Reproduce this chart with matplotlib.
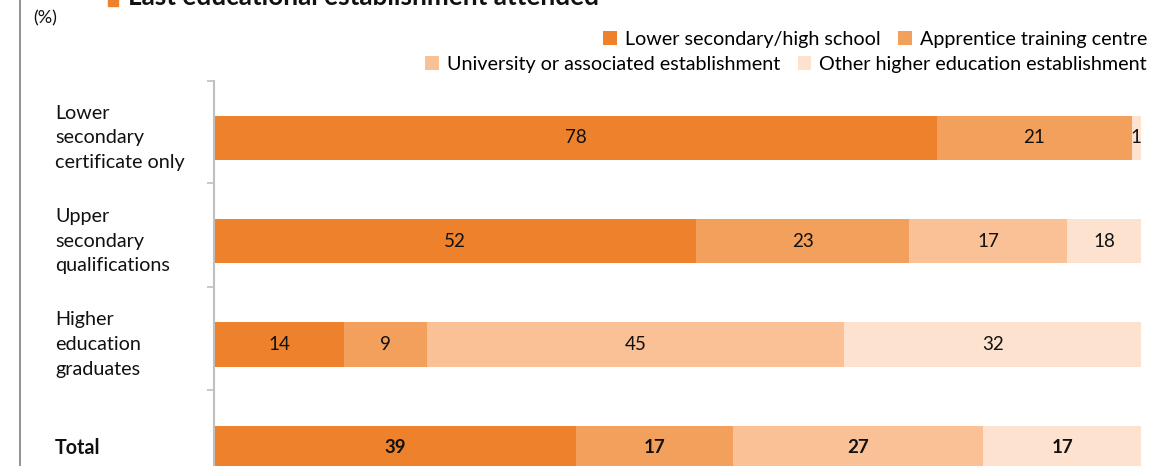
import numpy as np
import matplotlib.pyplot as plt
import matplotlib.patches as patches
import matplotlib.transforms as mtrans

plt.rcParams['font.family'] = ['Lato', 'DejaVu Sans']

# share of each establishment type, per qualification level (%)
groups = ["Lower\nsecondary\ncertificate only", "Upper\nsecondary\nqualifications",
          "Higher\neducation\ngraduates", "Total"]
lower_secondary = [78, 52, 14, 39]
apprentice = [21, 23, 9, 17]
university = [0, 17, 45, 27]
other_higher = [1, 18, 32, 17]

series = [lower_secondary, apprentice, university, other_higher]
names = ["Lower secondary/high school", "Apprentice training centre",
         "University or associated establishment", "Other higher education establishment"]
colors = ["#EE822C", "#F2A05B", "#F9C195", "#FDE2CF"]

W, H = 1150, 466
fig = plt.figure(figsize=(W/100, H/100), dpi=100)
ax = fig.add_axes([214/W, 0, 927/W, (H-81)/H])

y = np.arange(len(groups))
left = np.zeros(len(groups))
bars = []
for vals, c, name in zip(series, colors, names):
    vals = np.array(vals, dtype=float)
    b = ax.barh(y, vals, left=left, height=0.43, color=c, label=name, lw=0)
    bars.append(b)
    for i, (l, v) in enumerate(zip(left, vals)):
        if v <= 0:
            continue
        # centre the label on the visible part of the segment
        xc = l + min(v, 100 - l) / 2
        ax.text(xc, i, f"{v:.0f}", ha='center', va='center', fontsize=13.5,
                fontweight='bold' if groups[i] == "Total" else 'normal', color='#111111')
    left += vals

ax.set_xlim(0, 100)
ax.set_ylim(3.177, -0.55)
for s in ['top', 'right', 'bottom']:
    ax.spines[s].set_visible(False)
ax.spines['left'].set_color('#BFBFBF')
ax.spines['left'].set_linewidth(1.5)
ax.set_xticks([])
ax.set_yticks([])
ax.set_yticks([-0.55, 0.44, 1.44, 2.44], minor=True)
ax.tick_params(axis='y', which='minor', length=5, width=1.2, color='#BFBFBF')

# category labels, left aligned in figure coordinates
trans = mtrans.blended_transform_factory(fig.transFigure, ax.transData)
for i, g in enumerate(groups):
    ax.text(55/W, i, g, transform=trans, ha='left', va='center', fontsize=14.2,
            linespacing=1.55, fontweight='bold' if g == "Total" else 'normal', color='#111111')

# legend, two right-aligned rows
leg_kw = dict(frameon=False, ncol=2, fontsize=14.2, handlelength=0.7, handleheight=0.7,
              handletextpad=0.4, columnspacing=0.9, borderaxespad=0, borderpad=0,
              loc='upper right')
fig.legend(handles=bars[:2], bbox_to_anchor=(1147/W, 1 - 31/H), **leg_kw)
fig.legend(handles=bars[2:], bbox_to_anchor=(1147/W, 1 - 56/H), **leg_kw)

# title running off the top edge
fig.text(128/W, 1 - 5/H, "Last educational establishment attended", ha='left',
         va='baseline', fontsize=18.8, fontweight='bold', color='#111111')
fig.patches.append(patches.Rectangle((108/W, 1 - 6/H), 10/W, 10/H, transform=fig.transFigure,
                                     color=colors[0]))
fig.text(33/W, 1 - 18/H, "(%)", ha='left', va='center', fontsize=13, color='#111111')

# outer frame line on the left
fig.add_artist(plt.Line2D([20/W, 20/W], [0, 1], transform=fig.transFigure, color='#7F7F7F', lw=1.2))

fig.savefig('out.png', dpi=100)
